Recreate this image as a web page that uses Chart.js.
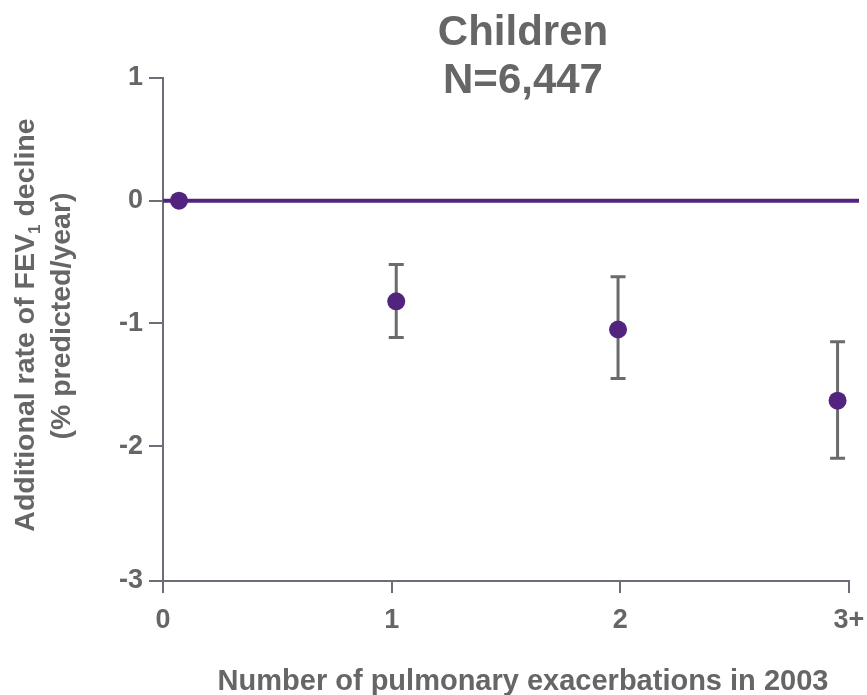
<!DOCTYPE html>
<html>
<head>
<meta charset="utf-8">
<script src="https://cdn.jsdelivr.net/npm/chart.js@4/dist/chart.umd.min.js"></script>
<style>
  html, body { margin: 0; padding: 0; background: #fff; }
  #wrap { width: 867px; height: 695px; }
</style>
</head>
<body>
<div id="wrap"><canvas id="chart" width="867" height="695"></canvas></div>
<script>
// x categories (number of exacerbations) and their tick labels
const X_TICKS = [0, 1, 2, 3];
const X_TICK_LABELS = ['0', '1', '2', '3+'];

// estimates
const POINT_X = [0.07, 1.02, 1.99, 2.95];
const POINT_Y = [0, -0.82, -1.05, -1.63];
const CI_HIGH = [null, -0.52, -0.62, -1.15];
const CI_LOW = [null, -1.115, -1.45, -2.1];

// y ticks (bottom axis sits a little below -3 in the original)
const Y_TICKS = [1, 0, -1, -2, -3.1];
const Y_TICK_LABELS = ['1', '0', '-1', '-2', '-3'];

const PURPLE = '#52247f';
const TEXT = '#666666';
const AXIS = '#6f6b78';
const BAR = '#6b6b6b';
const FONT = 'Liberation Sans, Arial, Helvetica, sans-serif';

/**
 * Zero reference line + error bars, drawn under the points
 */
const underlay = {
  id: 'underlay',
  beforeDatasetsDraw(chart) {
    const { ctx, chartArea, scales } = chart;
    const x = scales.x;
    const y = scales.y;
    ctx.save();

    // horizontal line at 0, runs a bit past the x axis end
    const y0 = y.getPixelForValue(0);
    ctx.strokeStyle = PURPLE;
    ctx.lineWidth = 4;
    ctx.beginPath();
    ctx.moveTo(chartArea.left, y0);
    ctx.lineTo(chartArea.right + 10, y0);
    ctx.stroke();

    // error bars
    ctx.strokeStyle = BAR;
    ctx.lineWidth = 3;
    POINT_X.forEach((px, i) => {
      if (CI_HIGH[i] === null) return;
      const cx = x.getPixelForValue(px);
      const top = y.getPixelForValue(CI_HIGH[i]);
      const bot = y.getPixelForValue(CI_LOW[i]);
      ctx.beginPath();
      ctx.moveTo(cx, top);
      ctx.lineTo(cx, bot);
      ctx.moveTo(cx - 7.5, top);
      ctx.lineTo(cx + 7.5, top);
      ctx.moveTo(cx - 7.5, bot);
      ctx.lineTo(cx + 7.5, bot);
      ctx.stroke();
    });
    ctx.restore();
  },
};

/**
 * Titles: chart title, rotated y title with FEV1 subscript, x title
 */
const titles = {
  id: 'titles',
  afterDraw(chart) {
    const { ctx } = chart;
    ctx.save();
    ctx.fillStyle = TEXT;
    ctx.textBaseline = 'alphabetic';
    ctx.textAlign = 'center';

    ctx.font = `bold 42px ${FONT}`;
    ctx.fillText('Children', 523, 45);
    ctx.fillText('N=6,447', 523, 93);

    ctx.font = `bold 29px ${FONT}`;
    ctx.fillText('Number of pulmonary exacerbations in 2003', 523, 690);

    // y title line 1, with subscript
    ctx.save();
    ctx.translate(34, 325);
    ctx.rotate(-Math.PI / 2);
    ctx.textAlign = 'left';
    const partA = 'Additional rate of FEV';
    const partB = '1';
    const partC = ' decline';
    ctx.font = `bold 28.5px ${FONT}`;
    const wA = ctx.measureText(partA).width;
    const wC = ctx.measureText(partC).width;
    ctx.font = `bold 17px ${FONT}`;
    const wB = ctx.measureText(partB).width;
    const start = -(wA + wB + wC) / 2;
    ctx.font = `bold 28.5px ${FONT}`;
    ctx.fillText(partA, start, 0);
    ctx.font = `bold 17px ${FONT}`;
    ctx.fillText(partB, start + wA, 6);
    ctx.font = `bold 28.5px ${FONT}`;
    ctx.fillText(partC, start + wA + wB, 0);
    ctx.restore();

    // y title line 2
    ctx.save();
    ctx.translate(70, 316);
    ctx.rotate(-Math.PI / 2);
    ctx.font = `bold 28.5px ${FONT}`;
    ctx.fillText('(% predicted/year)', 0, 0);
    ctx.restore();

    ctx.restore();
  },
};

const points = POINT_X.map((px, i) => ({ x: px, y: POINT_Y[i] }));

new Chart(document.getElementById('chart'), {
  type: 'scatter',
  data: {
    datasets: [{
      data: points,
      backgroundColor: PURPLE,
      borderColor: PURPLE,
      pointRadius: 9,
      pointHoverRadius: 9,
      borderWidth: 0,
      clip: false,
    }],
  },
  options: {
    responsive: false,
    animation: false,
    events: [],
    layout: { padding: { top: 78, right: 18, left: 0, bottom: 0 } },
    plugins: {
      legend: { display: false },
      tooltip: { enabled: false },
      title: { display: false },
    },
    scales: {
      x: {
        type: 'linear',
        min: 0,
        max: 3,
        afterBuildTicks: (scale) => {
          scale.ticks = X_TICKS.map((value) => ({ value }));
        },
        afterFit: (scale) => {
          scale.height = 114;
          scale.paddingLeft = 0;
          scale.paddingRight = 0;
        },
        ticks: {
          callback: (value, index) => X_TICK_LABELS[index],
          color: TEXT,
          font: { family: FONT, size: 27, weight: 'bold' },
          padding: 11,
          maxRotation: 0,
        },
        grid: {
          drawOnChartArea: false,
          drawTicks: true,
          tickLength: 12,
          color: AXIS,
          lineWidth: 2,
        },
        border: { color: AXIS, width: 2 },
      },
      y: {
        type: 'linear',
        min: -3.1,
        max: 1,
        afterBuildTicks: (scale) => {
          scale.ticks = Y_TICKS.map((value) => ({ value }));
        },
        afterFit: (scale) => {
          scale.width = 163;
          scale.paddingTop = 0;
          scale.paddingBottom = 0;
        },
        ticks: {
          callback: (value, index) => Y_TICK_LABELS[index],
          color: TEXT,
          font: { family: FONT, size: 27, weight: 'bold' },
          padding: 6,
        },
        grid: {
          drawOnChartArea: false,
          drawTicks: true,
          tickLength: 14,
          color: AXIS,
          lineWidth: 2,
        },
        border: { color: AXIS, width: 2 },
      },
    },
  },
  plugins: [underlay, titles],
});
</script>
</body>
</html>
